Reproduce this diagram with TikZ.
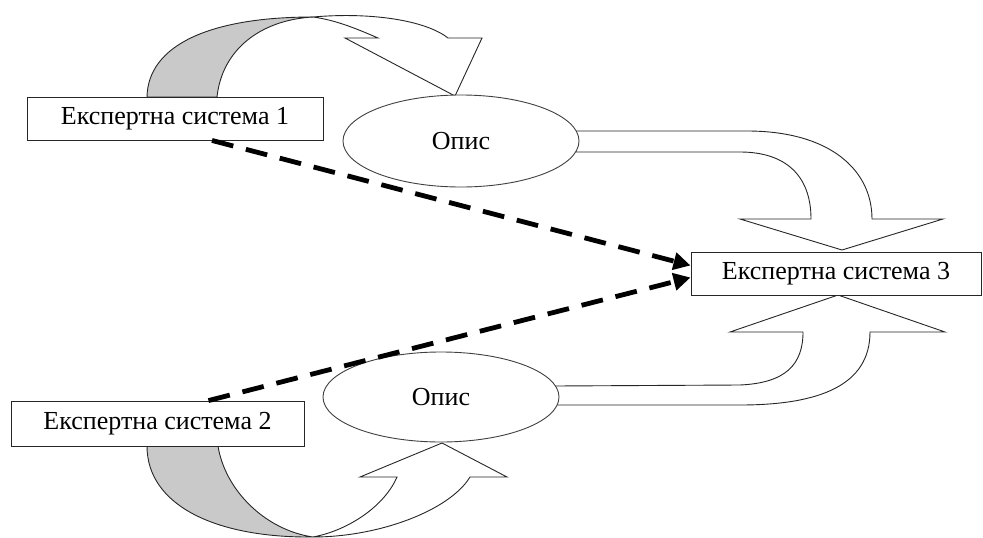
\documentclass[tikz,border=0pt]{standalone}
\usepackage{fontspec}
\setmainfont{Liberation Serif}
\usetikzlibrary{arrows.meta,shapes.geometric}

\tikzset{
  sysbox/.style={draw=black!85, line width=0.9pt, fill=white, rectangle,
    inner sep=0pt, font=\fontsize{26}{31}\selectfont},
  descell/.style={draw=black!75, line width=0.9pt, fill=white, ellipse,
    inner sep=0pt, font=\fontsize{26}{31}\selectfont},
  bandback/.style={draw=black!85, line width=0.9pt, fill=black!21, line join=round},
  bandfront/.style={draw=black!85, line width=0.9pt, fill=white, line join=miter},
  dashconn/.style={draw=black, line width=4.8pt, dash pattern=on 22pt off 13pt,
    -{Triangle[length=17pt,width=17pt]}},
}

\begin{document}
\begin{tikzpicture}[x=1pt,y=-1pt]
\useasboundingbox (0,0) rectangle (983,538);

% curved arrow from system 1 up and over to the upper description
\path[bandback] (147,97) .. controls (148,45) and (210,17) .. (313,17)
  .. controls (260,20) and (222,50) .. (217,97) -- cycle;
\path[bandfront] (313,17) .. controls (370,12) and (425,20) .. (448,38)
  -- (482,38) -- (455,96) -- (345,38) -- (378,38)
  .. controls (355,28) and (335,20) .. (313,17) -- cycle;

% curved arrow from system 2 down and round to the lower description
\path[bandback] (147,446) .. controls (147,505) and (215,538) .. (313,537)
  .. controls (265,530) and (225,490) .. (218,446) -- cycle;
\path[bandfront] (313,537) .. controls (380,537) and (450,510) .. (470,477)
  -- (507,477) -- (442,443) -- (360,477) -- (397,477)
  .. controls (385,505) and (350,530) .. (313,537) -- cycle;

% block arrow from the upper description down onto system 3
\path[bandfront] (576,131) -- (747,131) .. controls (830,131) and (872,170) .. (872,219)
  -- (943,219) -- (842,250) -- (740,219) -- (811,219)
  .. controls (811,175) and (785,152) .. (740,152) -- (576,152) -- cycle;

% block arrow from the lower description up onto system 3
\path[bandfront] (555,386) -- (740,385) .. controls (785,383) and (803,365) .. (803,332)
  -- (730,332) -- (838,295) -- (945,332) -- (870,332)
  .. controls (870,385) and (820,405) .. (740,405) -- (555,405) -- cycle;

% systems and descriptions
\node[sysbox, minimum width=296pt, minimum height=43pt] (es1) at (175,118.5) {Експертна система 1};
\node[sysbox, minimum width=293pt, minimum height=45pt] (es2) at (157.5,423.5) {Експертна система 2};
\node[sysbox, minimum width=290pt, minimum height=43pt] (es3) at (836,273.5) {Експертна система 3};
\node[descell, minimum width=236pt, minimum height=92pt] (op1) at (461,141) {Опис};
\node[descell, minimum width=236pt, minimum height=90pt] (op2) at (441,397) {Опис};

% dashed links into system 3
\draw[dashconn] ([xshift=37pt]es1.south) -- ([yshift=8pt]es3.west);
\draw[dashconn] ([xshift=51pt]es2.north) -- ([yshift=-4pt]es3.west);
\end{tikzpicture}
\end{document}
